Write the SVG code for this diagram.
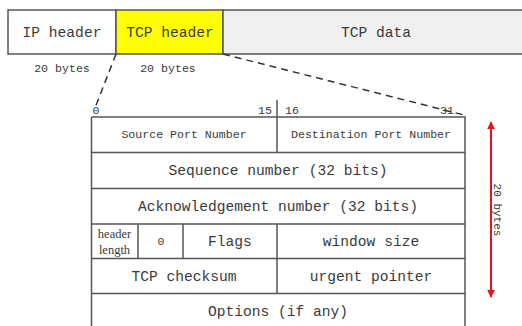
<svg xmlns="http://www.w3.org/2000/svg" width="522" height="326" viewBox="0 0 522 326">
<defs>
<style>
text{font-family:"Liberation Mono","DejaVu Sans Mono",monospace;fill:#3a3a3a;text-anchor:middle}
.big{font-size:14.6px}
.sm{font-size:11.6px}
.xs{font-size:11px}
.serif{font-family:"Liberation Serif","DejaVu Serif",serif;font-size:12.5px}
.box{stroke:#555;stroke-width:1.5}
.ln{stroke:#555;stroke-width:1.5;fill:none}
.dash{stroke:#333;stroke-width:1.5;stroke-dasharray:7,5;fill:none}
</style>
<marker id="ah" viewBox="0 0 10 10" refX="9" refY="5" markerWidth="8" markerHeight="8" orient="auto-start-reverse" markerUnits="userSpaceOnUse">
<path d="M0,0 L10,5 L0,10 z" fill="#ee1111"/>
</marker>
</defs>
<rect width="522" height="326" fill="#ffffff"/>

<g id="ip-header">
<rect class="box" x="8" y="10" width="108" height="44" fill="#ffffff"/>
<text class="big" x="62" y="37">IP header</text>
<text class="sm" x="62" y="72">20 bytes</text>
</g>
<g id="tcp-header">
<rect class="box" x="116" y="10" width="107" height="44" fill="#ffff00"/>
<text class="big" x="170" y="37">TCP header</text>
<text class="sm" x="168" y="72">20 bytes</text>
</g>
<g id="tcp-data">
<rect class="box" x="223" y="10" width="305" height="44" fill="#f0f0f0"/>
<text class="big" x="376" y="37">TCP data</text>
</g>

<g id="connectors">
<line class="dash" x1="116" y1="54" x2="95" y2="108"/>
<line class="dash" x1="223" y1="54" x2="464" y2="115"/>
<line x1="491" y1="122" x2="491" y2="297" stroke="#ee1111" stroke-width="2" marker-start="url(#ah)" marker-end="url(#ah)"/>
</g>

<g id="bit-scale">
<text class="sm" x="96" y="114">0</text>
<text class="sm" x="265" y="114">15</text>
<text class="sm" x="292" y="114">16</text>
<text class="sm" x="447" y="114">31</text>
<line class="ln" x1="277" y1="100" x2="277" y2="117"/>
</g>

<g id="table">
<path class="ln" d="M91.5,117 H465 V326 M91.5,117 V326 M91.5,152.5 H465 M91.5,188.5 H465 M91.5,224 H465 M91.5,258.5 H465 M91.5,293.5 H465"/>
</g>
<g id="source-port">
<line class="ln" x1="277" y1="117" x2="277" y2="152.5"/>
<text class="sm" x="184" y="138">Source Port Number</text>
</g>
<g id="dest-port"><text class="sm" x="371" y="138">Destination Port Number</text></g>
<g id="sequence"><text class="big" x="278" y="175">Sequence number (32 bits)</text></g>
<g id="ack"><text class="big" x="278" y="211">Acknowledgement number (32 bits)</text></g>
<g id="header-length">
<line class="ln" x1="138" y1="224" x2="138" y2="258.5"/>
<text class="serif" x="114.5" y="238">header</text>
<text class="serif" x="114.5" y="254">length</text>
</g>
<g id="zero">
<line class="ln" x1="183" y1="224" x2="183" y2="258.5"/>
<text class="sm" x="161" y="245">0</text>
</g>
<g id="flags">
<line class="ln" x1="277" y1="224" x2="277" y2="293.5"/>
<text class="big" x="230" y="246">Flags</text>
</g>
<g id="window"><text class="big" x="371" y="246">window size</text></g>
<g id="checksum"><text class="big" x="184" y="281">TCP checksum</text></g>
<g id="urgent"><text class="big" x="371" y="281">urgent pointer</text></g>
<g id="options"><text class="big" x="278" y="316">Options (if any)</text></g>

<g id="size-label">
<text class="xs" transform="translate(494,210) rotate(90)">20 bytes</text>
</g>
</svg>
